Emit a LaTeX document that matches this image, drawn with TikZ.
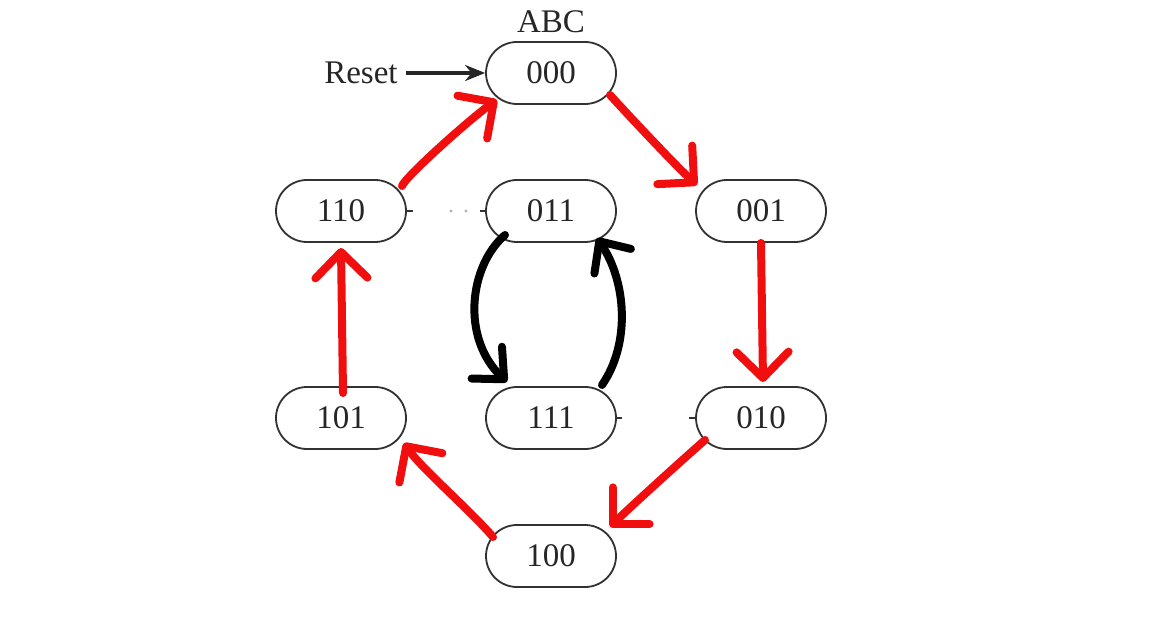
\documentclass[tikz,border=0pt]{standalone}
\usepackage{fontspec}
\setmainfont{Liberation Serif}
\usetikzlibrary{shapes.misc,arrows.meta,calc}
\definecolor{hred}{RGB}{240,14,14}
\definecolor{edge}{RGB}{50,50,50}
\begin{document}
\begin{tikzpicture}[x=0.5pt,y=-0.5pt,
  state/.style={rounded rectangle, draw=edge, line width=0.9pt, minimum width=65pt, minimum height=31pt, inner sep=0pt, text=black!85, font=\fontsize{16.5}{19}\selectfont},
  lbl/.style={inner sep=0pt, text=black!85, font=\fontsize{16.5}{19}\selectfont},
  redarr/.style={draw=hred, line width=4pt, line cap=round, line join=round, -{Straight Barb[length=13pt,width=26pt,round]}},
  blkarr/.style={draw=black, line width=4pt, line cap=round, line join=round, -{Straight Barb[length=12pt,width=22pt,round]}},
  stub/.style={draw=edge, line width=0.9pt}]
\useasboundingbox (0,0) rectangle (1154,624);
\fill[white] (0,0) rectangle (1154,624);
\node[state] (s000) at (551,73) {000};
\node[state] (s110) at (341,211) {110};
\node[state] (s011) at (551,211) {011};
\node[state] (s001) at (761,211) {001};
\node[state] (s101) at (341,418) {101};
\node[state] (s111) at (551,418) {111};
\node[state] (s010) at (761,418) {010};
\node[state] (s100) at (551,556) {100};
\node[lbl] (abc) at (551,22) {ABC};
\node[lbl, anchor=east] (reset) at (398,73) {Reset};
\draw[draw=black!85, line width=1.7pt, -{Stealth[length=10pt,width=8pt]}] (reset.east) ++(8,0) -- (s000.west);
% red transitions
\draw[redarr] ($(s000)+(59,22)$) .. controls ($(s000)+(80,45)$) and ($(s001)+(-85,-45)$) .. ($(s001)+(-64,-26)$);
\draw[redarr] ($(s001)+(0,32)$) -- ($(s010)+(2,-36)$);
\draw[redarr] ($(s010)+(-56,22)$) .. controls ($(s010)+(-80,43)$) and ($(s100)+(75,-45)$) .. ($(s100)+(59,-29)$);
\draw[redarr] ($(s100)+(-58,-19)$) .. controls ($(s100)+(-80,-45)$) and ($(s101)+(80,50)$) .. ($(s101)+(63,25)$);
\draw[redarr] ($(s101)+(2,-25)$) -- ($(s110)+(0,37)$);
\draw[redarr] ($(s110)+(61,-25)$) .. controls ($(s110)+(64,-34)$) and ($(s000)+(-80,45)$) .. ($(s000)+(-54,27)$);
% black transitions
\draw[blkarr] ($(s011)+(-46,24)$) .. controls ($(s011)+(-82,55)$) and ($(s111)+(-90,-80)$) .. ($(s111)+(-44,-36)$);
\draw[blkarr] ($(s111)+(51,-33)$) .. controls ($(s111)+(80,-75)$) and ($(s011)+(75,70)$) .. ($(s011)+(46,27)$);
% small remnants
\draw[stub] (s110.east) -- ++(6,0);
\fill[black!30] (451,211) circle (0.8pt) (466,211) circle (0.8pt);
\draw[stub, line width=1.3pt] (s011.west) -- ++(-5,0);
\draw[stub, line width=1.3pt] (s111.east) -- ++(5,0);
\draw[stub, line width=1.3pt] (s010.west) -- ++(-6,0);
\end{tikzpicture}
\end{document}
